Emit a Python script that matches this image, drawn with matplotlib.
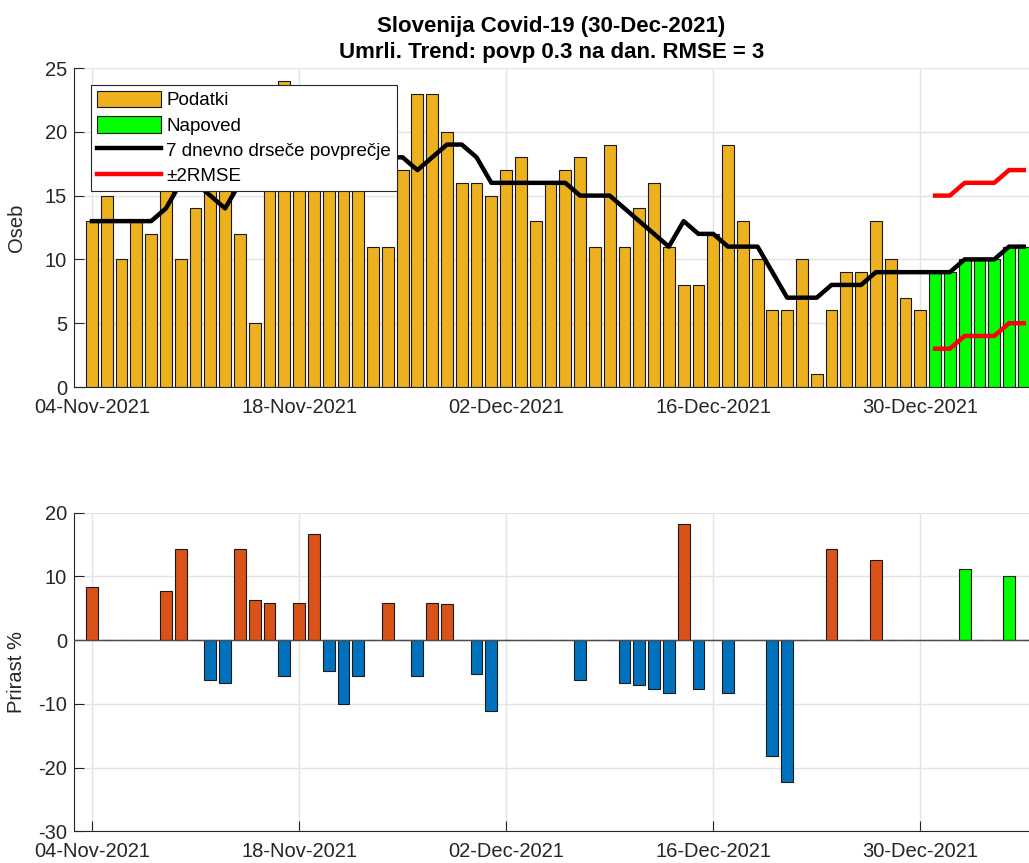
import matplotlib
matplotlib.use("Agg")
import matplotlib.pyplot as plt
import matplotlib.dates as mdates
import numpy as np
import pandas as pd

plt.rcParams['font.family'] = ['Liberation Sans', 'DejaVu Sans']
plt.rcParams['axes.unicode_minus'] = False

# Podatki: umrli na dan, 04-Nov-2021 .. 30-Dec-2021
podatki = [13, 15, 10, 13, 12, 20, 10, 14, 22, 22, 12, 5, 16, 24, 21, 23, 20, 19, 21,
           11, 11, 17, 23, 23, 20, 16, 16,
           15, 17, 18, 13, 16, 17, 18, 11, 19, 11, 14, 16, 11, 8, 8, 12, 19, 13, 10,
           6, 6, 10, 1, 6, 9, 9, 13, 10, 7, 6]
# Napoved: 31-Dec-2021 .. 06-Jan-2022
napoved = [9, 9, 10, 10, 10, 11, 11]
# 7 dnevno drsece povprecje (04-Nov .. 06-Jan)
povprecje = [13, 13, 13, 13, 13, 14, 16, 16, 15, 14, 16, 17, 18, 17, 18, 21, 20, 18, 17,
             17, 18, 18, 17, 18, 19, 19, 18,
             16, 16, 16, 16, 16, 16, 15, 15, 15, 14, 13, 12, 11, 13, 12, 12, 11, 11, 11,
             9, 7, 7, 7, 8, 8, 8, 9, 9, 9, 9, 9,
             9, 10, 10, 10, 11, 11]
rmse_zgoraj = [15, 15, 16, 16, 16, 17, 17]
rmse_spodaj = [3, 3, 4, 4, 4, 5, 5]
# Prirast % (04-Nov .. 06-Jan)
prirast = [8.3, 0, 0, 0, 0, 7.7, 14.3, 0, -6.3, -6.7, 14.3, 6.3, 5.9, -5.6, 5.9, 16.7,
           -4.8, -10.0, -5.6, 0, 5.9, 0, -5.6, 5.9, 5.6, 0, -5.3,
           -11.1, 0, 0, 0, 0, 0, -6.3, 0, 0, -6.7, -7.1, -7.7, -8.3, 18.2, -7.7, 0,
           -8.3, 0, 0, -18.2, -22.2, 0, 0, 14.3, 0, 0, 12.5, 0, 0, 0, 0,
           0, 11.1, 0, 0, 10.0, 0]

dni = pd.date_range("2021-11-04", periods=len(podatki) + len(napoved), freq="D")
dni_pod = dni[:len(podatki)]
dni_nap = dni[len(podatki):]

c_pod = '#EDB120'
c_nap = '#00FF00'
c_plus = '#D95319'
c_minus = '#0072BD'
c_axis = '#262626'

W, H = 1029, 863
fig = plt.figure(figsize=(W / 100, H / 100), dpi=100)
ax1 = fig.add_axes([74 / W, 1 - 387 / H, 1 - 74 / W, 319 / H])
ax2 = fig.add_axes([74 / W, 1 - 831.3 / H, 1 - 74 / W, 318.6 / H])

# ===== zgornji graf =====
h1 = ax1.bar(dni_pod, podatki, 0.8, color=c_pod, edgecolor='#1a1a1a', linewidth=0.8, zorder=2)
h2 = ax1.bar(dni_nap, napoved, 0.8, color=c_nap, edgecolor='#1a1a1a', linewidth=0.8, zorder=2)
h3, = ax1.plot(dni, povprecje, color='black', lw=3.2, zorder=3)
h4, = ax1.plot(dni_nap, rmse_zgoraj, color='red', lw=3.2, zorder=3)
ax1.plot(dni_nap, rmse_spodaj, color='red', lw=3.2, zorder=3)
ax1.set_ylim(0, 25)
ax1.set_yticks([0, 5, 10, 15, 20, 25])
ax1.set_ylabel('Oseb', fontsize=14.5, color=c_axis)
ax1.set_title('Slovenija Covid-19 (30-Dec-2021)\nUmrli. Trend: povp 0.3 na dan. RMSE = 3',
              fontsize=16, fontweight='bold', pad=7, linespacing=1.35)
leg = ax1.legend([h1, h2, h3, h4],
                 ['Podatki', 'Napoved', '7 dnevno drseče povprečje', '±2RMSE'],
                 loc='upper left', bbox_to_anchor=(0.018, 0.947), fontsize=13.5,
                 handlelength=3.4, handleheight=1.0, labelspacing=0.34,
                 borderpad=0.3, handletextpad=0.3, fancybox=False, framealpha=1,
                 edgecolor=c_axis, borderaxespad=0)
leg.get_frame().set_linewidth(0.8)
leg.set_zorder(5)

# ===== spodnji graf =====
barve = [c_plus if v > 0 else c_minus for v in prirast[:len(podatki)]] + [c_nap] * len(napoved)
ax2.bar(dni, prirast, 0.8, color=barve, edgecolor='#1a1a1a', linewidth=0.8, zorder=2)
ax2.axhline(0, color='#4d4d4d', lw=1, zorder=3)
ax2.set_ylim(-30, 20)
ax2.set_yticks([-30, -20, -10, 0, 10, 20])
ax2.set_ylabel('Prirast %', fontsize=14.5, color=c_axis)

tick_dni = pd.to_datetime(["2021-11-04", "2021-11-18", "2021-12-02", "2021-12-16", "2021-12-30"])
for ax in (ax1, ax2):
    ax.set_xlim(dni[0] - pd.Timedelta(hours=29.2), dni[0] + pd.Timedelta(hours=63.35 * 24))
    ax.set_xticks(tick_dni)
    ax.xaxis.set_major_formatter(mdates.DateFormatter('%d-%b-%Y'))
    ax.grid(True, color='#e3e3e3', lw=1, zorder=0)
    ax.set_axisbelow(True)
    for s in ('top', 'right'):
        ax.spines[s].set_visible(False)
    for s in ('left', 'bottom'):
        ax.spines[s].set_color(c_axis)
        ax.spines[s].set_linewidth(0.8)
    ax.tick_params(direction='in', length=7, width=0.8, colors=c_axis, labelsize=14.5)
    ax.tick_params(axis='x', pad=8)
    ax.tick_params(axis='y', pad=5)
    ax.yaxis.set_label_coords(-0.05, 0.5)

plt.savefig('out.png', dpi=100)
